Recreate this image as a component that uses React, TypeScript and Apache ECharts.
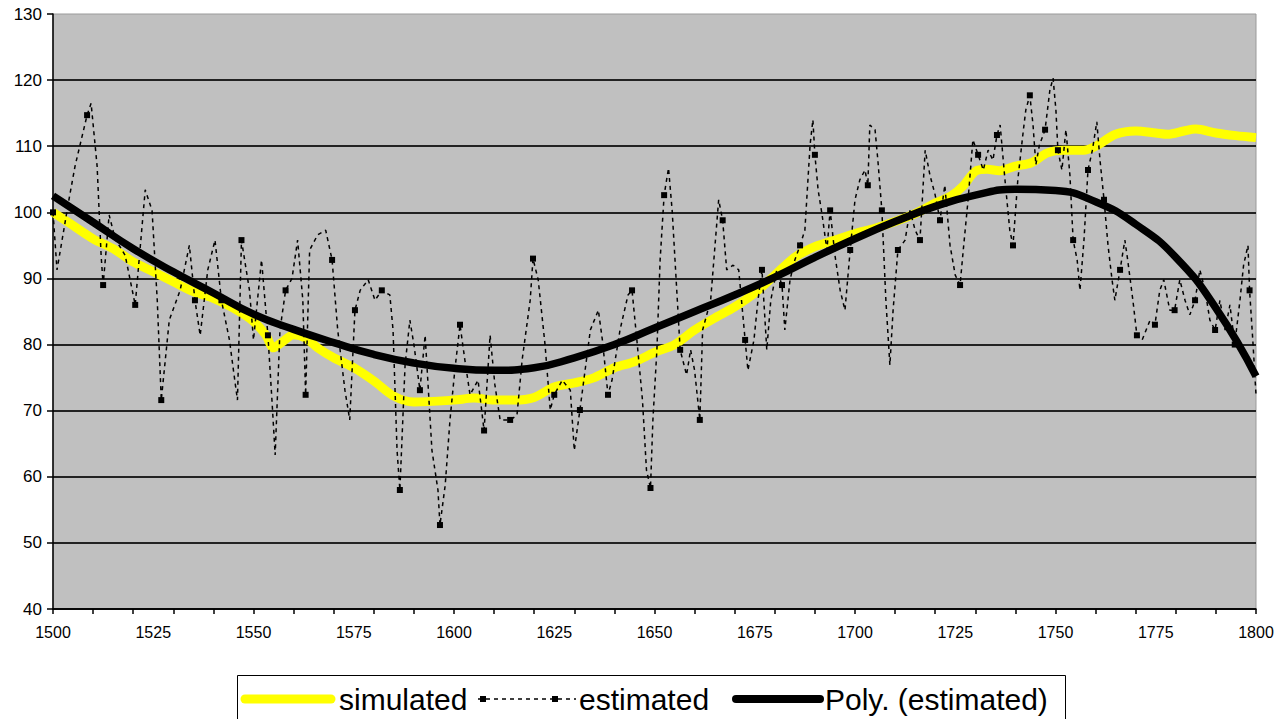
import React, { useEffect, useRef } from "react";
import * as echarts from "echarts";

const yearTicks = [1500, 1525, 1550, 1575, 1600, 1625, 1650, 1675, 1700, 1725, 1750, 1775, 1800];
const legendNames = ["simulated", "estimated", "Poly. (estimated)"];

const simulated: [number, number][] = [
  [1500, 100], [1505, 98], [1510, 96], [1515, 94.5], [1520, 92.5], [1525, 91], [1530, 89.5],
  [1535, 88], [1540, 87], [1545, 85.5], [1550, 83.5], [1553, 81.5], [1555, 79.5], [1557, 80.3],
  [1560, 81.5], [1563, 81], [1566, 79.5], [1570, 78], [1575, 76.5], [1580, 74.5], [1585, 72.2],
  [1590, 71.3], [1600, 71.6], [1605, 71.9], [1610, 71.6], [1615, 71.6], [1620, 72], [1625, 73.6],
  [1630, 74.2], [1635, 75], [1640, 76.5], [1645, 77.4], [1650, 78.8], [1655, 80], [1660, 82.2],
  [1665, 84], [1670, 85.7], [1675, 87.8], [1680, 90.5], [1685, 93.2], [1690, 94.8], [1695, 95.8],
  [1700, 96.8], [1705, 97.6], [1710, 98.6], [1715, 99.8], [1720, 101.4], [1724, 102.5], [1727, 104],
  [1730, 106.2], [1733, 106.5], [1736, 106.3], [1740, 107], [1744, 107.5], [1748, 109], [1752, 109.4],
  [1757, 109.4], [1760, 110], [1765, 111.8], [1770, 112.3], [1775, 112], [1778, 111.8], [1782, 112.3],
  [1785, 112.6], [1790, 112], [1795, 111.6], [1800, 111.3],
];

const estimated: [number, number][] = [
  [1500,100],[1501,91.3],[1504,102],[1505.5,107],[1508.5,114.7],[1509.5,116.5],[1511,107],[1512,93.5],[1512.5,89],[1514,99.6],[1515.5,96],[1518,93.5],[1520.5,86],[1523,103.4],[1524.7,100.3],[1526,86.7],[1527,71.6],[1529,83.7],[1531.7,88.2],[1534,95],[1535.4,86.7],[1536.7,81.4],[1538.6,91.3],[1540.4,95.8],[1542,86.7],[1544,80.7],[1545,76.1],[1546,71.6],[1547,95.8],[1549,88.2],[1550,80.7],[1552,92.8],[1553.6,81.4],[1554.6,71.6],[1555.4,63.3],[1556.6,82.2],[1558,88.2],[1559.6,90],[1561,95.8],[1562.3,86.7],[1563,72.4],[1564,94.3],[1566,96.6],[1568,97.3],[1569.6,92.8],[1571,82.2],[1572.8,73.1],[1574,68.6],[1575.3,85.2],[1576.6,88.2],[1578.6,89.8],[1580.3,86.7],[1582,88.2],[1584,87.5],[1584.8,82.2],[1585.8,64],[1586.5,58],[1587.8,76.9],[1589,83.7],[1590,80],[1591.5,73.1],[1592.8,81.4],[1594.5,64],[1596,58],[1596.5,52.7],[1597.8,58.7],[1599,68.6],[1600.2,76.1],[1601.5,83],[1602.7,77.7],[1604,72.4],[1606,74.6],[1607.5,67],[1609,81.4],[1610.2,73.9],[1611.5,68.6],[1614,68.6],[1615.7,69.3],[1617,77.7],[1619,86.7],[1619.7,93],[1621,89.8],[1622.7,80],[1624,70.1],[1625,72.4],[1627,74.6],[1629,73.1],[1630,64],[1631.4,70.1],[1634,82.2],[1636,85.2],[1637,80.7],[1638.4,72.4],[1639.4,74.6],[1641.4,82.2],[1643.4,87.5],[1644.4,88.2],[1645.6,80.7],[1647,71.6],[1648,61],[1649,58.3],[1649.6,68.6],[1650.6,79.2],[1651.4,92.8],[1652.4,102.6],[1653.5,106.7],[1654.4,100.3],[1655.4,89.8],[1656.4,79.2],[1658,75.4],[1659,79.2],[1660,76.1],[1661.3,68.6],[1662,82.2],[1664,86.7],[1666,101.9],[1667,98.8],[1668,91.3],[1669.6,92],[1671,91.3],[1672.6,80.7],[1673.3,76.1],[1674.8,80.7],[1675.8,86.7],[1676.8,91.3],[1678,79.2],[1679,86.7],[1680.5,91.3],[1681.8,89],[1682.5,82.2],[1683.8,89.8],[1685,92.8],[1686.3,95],[1687.5,97.3],[1688.8,110.2],[1689.5,114],[1690,108.7],[1690.8,103.4],[1691.8,99.6],[1693,94.3],[1693.8,100.3],[1695,93.5],[1696.3,88.2],[1697.5,85.2],[1698.8,94.3],[1700,101.9],[1701.2,104.9],[1702.5,106.4],[1703.2,104.1],[1703.7,113.2],[1705,112.5],[1705.7,107.9],[1706.7,100.3],[1707.7,86.7],[1708.7,76.9],[1709.5,85.2],[1710.7,94.3],[1712.5,95.8],[1713.7,100.3],[1715,97.3],[1716.2,95.8],[1717.5,109.4],[1718.7,105.6],[1720,102.6],[1721.2,98.8],[1722.4,104.1],[1723.7,95],[1725,90.5],[1726.2,89],[1727,94.3],[1728.2,101.9],[1729.4,111],[1730.7,108.7],[1732,106.4],[1733.2,109.4],[1734.4,107.9],[1735.4,111.7],[1736.2,113.2],[1737.4,104.9],[1738.6,97.3],[1739.4,95],[1740.6,104.9],[1742,112.5],[1742.6,115.5],[1743.6,117.7],[1744.4,113.2],[1745.1,107.2],[1746,110.2],[1747.4,112.5],[1748.6,118.5],[1749.4,120.3],[1750.1,115.5],[1750.6,109.4],[1751.6,106.4],[1752.6,112.5],[1753.6,105.6],[1754.4,95.8],[1755.4,92.8],[1756.1,88.2],[1757.1,95.8],[1758.1,106.4],[1759.2,109.4],[1760.3,113.7],[1761.1,107.9],[1762.1,101.9],[1763.1,95],[1764.1,89.8],[1764.8,86.7],[1766.1,91.3],[1767.3,95.8],[1768,92.8],[1769.3,86.7],[1770.3,81.4],[1771.6,80.7],[1772.6,82.2],[1773.6,83.7],[1774.8,83],[1776,88.2],[1777,89.8],[1778.5,85.2],[1779.7,85.2],[1781,89.8],[1782.3,86.7],[1783.5,84.5],[1784.8,86.7],[1786,91.3],[1787.3,88.2],[1788.5,83.7],[1789.8,82.2],[1791,86.7],[1792.3,82.2],[1793.5,86],[1794.7,80],[1796,86.7],[1796.9,92],[1798,95],[1798.4,88.2],[1799.2,80.7],[1800,72.4],
];

const polyYears = [1500, 1510, 1520, 1530, 1540, 1550, 1560, 1570, 1580, 1590, 1600, 1610, 1620, 1630, 1640, 1650, 1660, 1670, 1680, 1690, 1700, 1710, 1720, 1730, 1740, 1750, 1760, 1770, 1780, 1790, 1800];
const polyValues = [102.5, 98.5, 94.5, 91, 87.8, 84.6, 82.3, 80.3, 78.5, 77.2, 76.4, 76.1, 76.5, 78, 80, 82.5, 85, 87.5, 90.2, 93.2, 96, 98.6, 100.9, 102.6, 103.5, 103.3, 101.6, 98.2, 93.2, 85.5, 75.2];

const FONT = "'Liberation Sans', Arial, sans-serif";

export default function App() {
  const ref = useRef<HTMLDivElement>(null);
  useEffect(() => {
    if (!ref.current) return;
    const chart = echarts.init(ref.current, undefined, { renderer: "svg" });
    const yLineColors = ["#222", "#222", "#222", "#222", "#222", "#222", "#222", "#222", "#222", "transparent"];
    const ly = 699;
    const textStyle = (text: string, x: number) => ({
      type: "text", x, y: ly,
      style: { text, fontSize: 30, fontFamily: FONT, fill: "#000", textVerticalAlign: "middle", verticalAlign: "middle" },
    });
    chart.setOption({
      animation: false,
      backgroundColor: "#fff",
      grid: {
        left: 53, top: 14, right: 21, bottom: 110,
        show: true, backgroundColor: "#C0C0C0", borderColor: "#9a9a9a", borderWidth: 1,
      },
      graphic: [
        { type: "rect", shape: { x: 237.5, y: 675.5, width: 828, height: 60 }, style: { fill: "#fff", stroke: "#000", lineWidth: 1 } },
        { type: "line", shape: { x1: 245, y1: ly, x2: 331, y2: ly }, style: { stroke: "#FFFF00", lineWidth: 9, lineCap: "round" } },
        textStyle(legendNames[0], 339),
        { type: "line", shape: { x1: 478, y1: ly, x2: 576, y2: ly }, style: { stroke: "#000", lineWidth: 1.5, lineDash: [4, 4] } },
        { type: "rect", shape: { x: 480, y: ly - 3, width: 6, height: 6 }, style: { fill: "#000" } },
        { type: "rect", shape: { x: 552, y: ly - 3, width: 6, height: 6 }, style: { fill: "#000" } },
        textStyle(legendNames[1], 579),
        { type: "line", shape: { x1: 736, y1: ly, x2: 820, y2: ly }, style: { stroke: "#000", lineWidth: 8, lineCap: "round" } },
        textStyle(legendNames[2], 825),
      ],
      xAxis: [
        {
          type: "value", min: 1500, max: 1800, interval: 25,
          axisLine: { show: true, lineStyle: { color: "#000", width: 1.5 } },
          axisTick: { show: false },
          splitLine: { show: false },
          axisLabel: {
            fontSize: 16, fontFamily: FONT, color: "#000", margin: 15,
            formatter: (v: number) => (yearTicks.includes(v) ? String(v) : ""),
          },
        },
        {
          type: "value", min: 1500, max: 1800, interval: 10, position: "bottom",
          axisLine: { show: false },
          axisTick: { show: true, length: 5, lineStyle: { color: "#000", width: 1.5 } },
          axisLabel: { show: false },
          splitLine: { show: false },
        },
      ],
      yAxis: {
        type: "value", min: 40, max: 130, interval: 10,
        axisLine: { show: true, lineStyle: { color: "#000", width: 1.5 } },
        axisTick: { show: true, inside: false, length: 6, lineStyle: { color: "#000", width: 1.5 } },
        axisLabel: { fontSize: 17, fontFamily: FONT, color: "#000", margin: 11 },
        splitLine: { show: true, lineStyle: { color: yLineColors, width: 2 } },
      },
      series: [
        {
          name: legendNames[0], type: "line", data: simulated, symbol: "none",
          lineStyle: { color: "#FFFF00", width: 9 }, itemStyle: { color: "#FFFF00" },
          smooth: 0.3, z: 2,
        },
        {
          name: legendNames[1], type: "line", symbol: "rect", symbolSize: 6,
          data: estimated.map((d, i) => (i % 4 === 0 ? { value: d } : { value: d, symbol: "none" })),
          lineStyle: { color: "#000", width: 1.5, type: [4, 4] }, itemStyle: { color: "#000" },
          z: 3,
        },
        {
          name: legendNames[2], type: "line", symbol: "none",
          data: polyYears.map((y, i) => [y, polyValues[i]]),
          smooth: true, lineStyle: { color: "#000", width: 7.5 }, itemStyle: { color: "#000" },
          z: 4,
        },
      ],
    });
    return () => chart.dispose();
  }, []);
  return (
    <div
      ref={ref}
      style={{ position: "absolute", left: 0, top: 0, width: 1277, height: 719, background: "#fff" }}
    />
  );
}
